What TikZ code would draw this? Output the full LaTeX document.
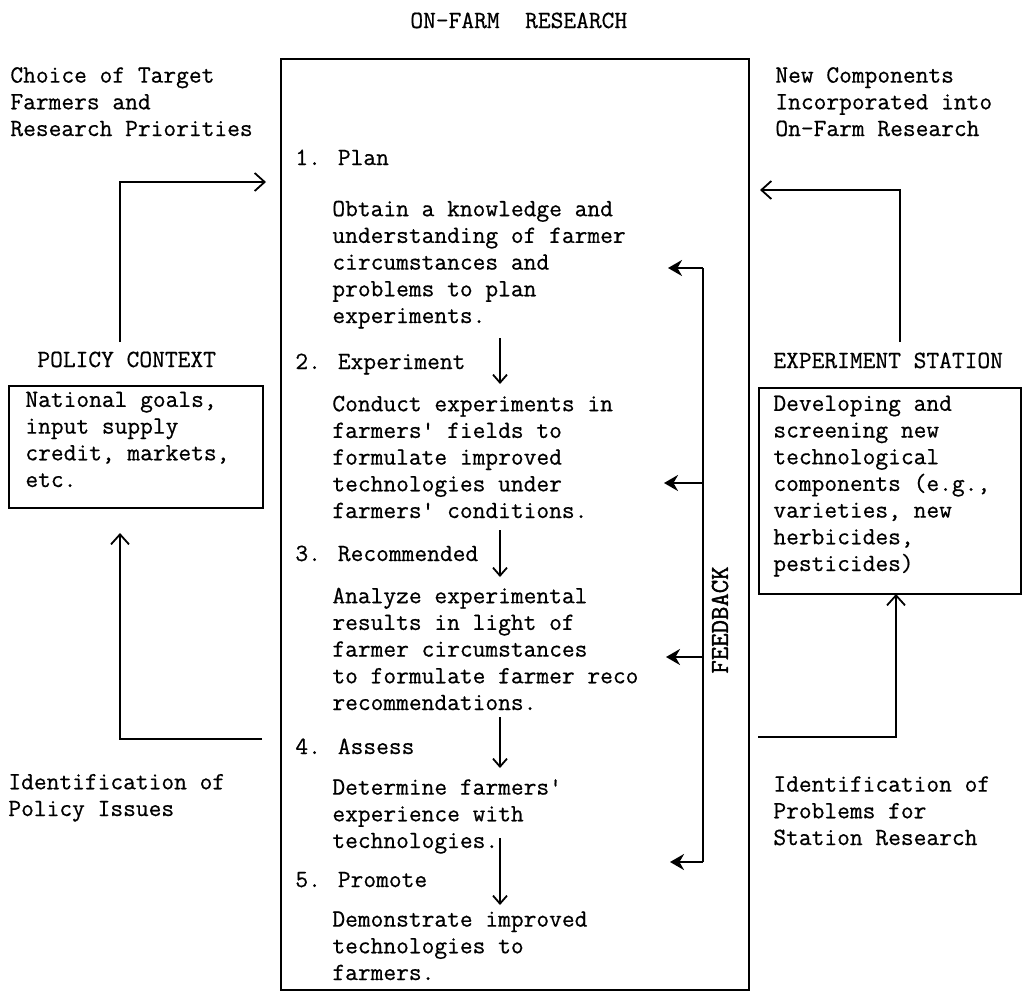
\documentclass[tikz,border=0pt]{standalone}
\usepackage{fontspec}
\newfontfamily\typewriter{Latin Modern Mono}[FakeBold=0.6]
\newfontfamily\typewriterheavy{Latin Modern Mono}[FakeBold=1.6]
\usetikzlibrary{arrows.meta}
\begin{document}
\begin{tikzpicture}[x=0.5pt,y=-0.5pt,
  tw/.style={font=\typewriter\fontsize{12.38}{13.35}\selectfont, inner sep=0pt, anchor=base west, align=left},
  frame/.style={draw, line width=1pt, inner sep=0pt, anchor=north west},
  conn/.style={line width=0.9pt},
  openarrow/.style={conn, -{Straight Barb[length=5pt,width=9pt]}},
  downarrow/.style={line width=0.9pt, -{Straight Barb[length=4pt,width=7pt]}},
  fbarrow/.style={line width=1.4pt, -{Stealth[length=7pt,width=8pt]}}
]
\useasboundingbox (0,0) rectangle (1032,991);

% title
\node[tw] (title) at (410,28) {ON-FARM~~RESEARCH};

% main frame
\node[frame, minimum width=234pt, minimum height=465.5pt] (main) at (280,58) {};

% left texts (base anchor = baseline of the last line)
\node[tw] (choice) at (10,136) {Choice of Target\\Farmers and\\Research Priorities};
\node[tw] (policy) at (37,367) {POLICY CONTEXT};
\node[frame, minimum width=127pt, minimum height=61pt] (pbox) at (8,385) {};
\node[tw] (ptext) at (25,487) {National goals,\\input supply\\credit, markets,\\etc.};
\node[tw] (pissue) at (8,816) {Identification of\\Policy Issues};

% right texts
\node[tw] (newcomp) at (775,136) {New Components\\Incorporated into\\On-Farm Research};
\node[tw] (station) at (773,368) {EXPERIMENT STATION};
\node[frame, minimum width=131pt, minimum height=103pt] (sbox) at (758,387) {};
\node[tw] (stext) at (773,571) {Developing and\\screening new\\technological\\components (e.g.,\\varieties, new\\herbicides,\\pesticides)};
\node[tw] (sissue) at (773,845) {Identification of\\Problems for\\Station Research};

% main contents
\node[tw] (h1) at (295,165) {1. Plan};
\node[tw] (b1) at (332,323) {Obtain a knowledge and\\understanding of farmer\\circumstances and\\problems to plan\\experiments.};
\node[tw] (h2) at (295,369) {2. Experiment};
\node[tw] (b2) at (332,518) {Conduct experiments in\\farmers' fields to\\formulate improved\\technologies under\\farmers' conditions.};
\node[tw] (h3) at (295,561) {3. Recommended};
\node[tw] (b3) at (332,710) {Analyze experimental\\results in light of\\farmer circumstances\\to formulate farmer reco\\recommendations.};
\node[tw] (h4) at (295,754) {4. Assess};
\node[tw] (b4) at (332,848) {Determine farmers'\\experience with\\technologies.};
\node[tw] (h5) at (295,887) {5. Promote};
\node[tw] (b5) at (332,980) {Demonstrate improved\\technologies to\\farmers.};

% feedback label
\node[font=\typewriterheavy\fontsize{13}{13}\selectfont, inner sep=0pt, rotate=90] (fb) at (720,620) {FEEDBACK};

% down arrows inside main
\coordinate (d1a) at (500,338); \coordinate (d1b) at (500,384);
\coordinate (d2a) at (500,530); \coordinate (d2b) at (500,577);
\coordinate (d3a) at (500,717); \coordinate (d3b) at (500,768);
\coordinate (d4a) at (500,838); \coordinate (d4b) at (500,905);
\draw[downarrow] (d1a) -- (d1b);
\draw[downarrow] (d2a) -- (d2b);
\draw[downarrow] (d3a) -- (d3b);
\draw[downarrow] (d4a) -- (d4b);

% feedback line
\coordinate (ft) at (703,268); \coordinate (fbt) at (703,862);
\coordinate (f2) at (703,483); \coordinate (f3) at (703,657);
\coordinate (e1) at (668,268); \coordinate (e2) at (664,483);
\coordinate (e3) at (666,657); \coordinate (e4) at (670,862);
\draw[conn] (ft) -- (fbt);
\draw[fbarrow] (ft) -- (e1);
\draw[fbarrow] (f2) -- (e2);
\draw[fbarrow] (f3) -- (e3);
\draw[fbarrow] (fbt) -- (e4);

% left loop
\coordinate (lt1) at (120,342); \coordinate (lt2) at (266,182);
\draw[openarrow] (lt1) |- (lt2);
\coordinate (lb1) at (262,739); \coordinate (lb2) at (120,533);
\draw[openarrow] (lb1) -| (lb2);

% right loop
\coordinate (rt1) at (900,342); \coordinate (rt2) at (760,190);
\draw[openarrow] (rt1) |- (rt2);
\coordinate (rb1) at (758,737); \coordinate (rb2) at (896,594);
\draw[openarrow] (rb1) -| (rb2);
\end{tikzpicture}
\end{document}
